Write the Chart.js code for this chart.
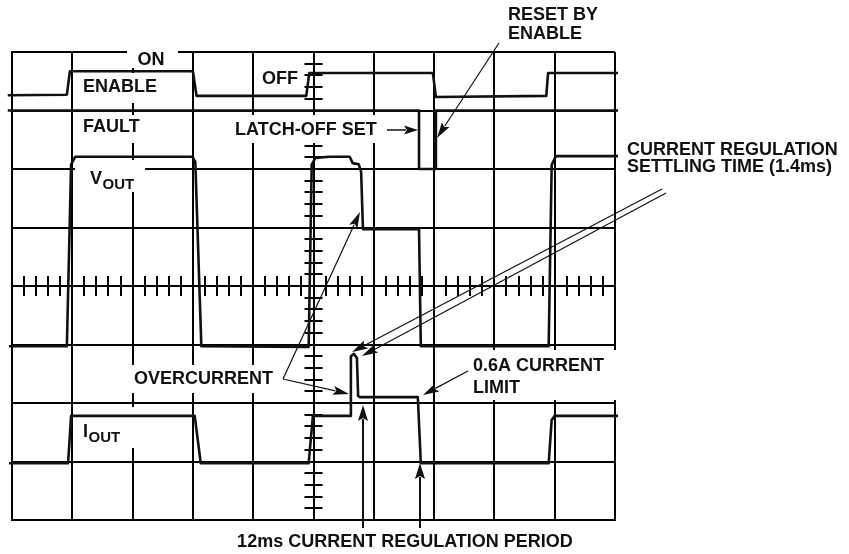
<!DOCTYPE html>
<html><head><meta charset="utf-8">
<script src="https://cdn.jsdelivr.net/npm/chart.js@4/dist/chart.umd.min.js"></script>
<style>html,body{margin:0;padding:0;background:#fff;}canvas{display:block;}</style>
</head><body>
<canvas id="c" width="849" height="554"></canvas>
<script>
// Horizontal unit: scope divisions (10), vertical unit: scope divisions (8)
const xMin = 0, xMax = 10, yMin = 0, yMax = 8;

// ENABLE trace
const enableX = [-0.07, 0.91, 0.96, 3.00, 3.06, 4.88, 4.93, 6.98, 7.03, 8.86, 8.89, 10.05];
const enableY = [7.26, 7.27, 7.67, 7.67, 7.25, 7.25, 7.64, 7.64, 7.23, 7.25, 7.64, 7.64];
// FAULT trace
const faultX = [-0.07, 6.75, 6.75, 7.03, 7.03, 10.05];
const faultY = [7.0, 7.0, 6.0, 6.0, 7.0, 7.0];
// VOUT trace
const voutX = [-0.05, 0.91, 0.98, 1.05, 2.99, 3.04, 3.14, 4.92, 4.97, 5.03, 5.27, 5.60, 5.65, 5.75, 5.79, 5.82, 6.75, 6.78, 8.90, 8.95, 9.02, 10.05];
const voutY = [2.97, 2.97, 6.08, 6.21, 6.21, 6.12, 2.97, 2.96, 6.07, 6.19, 6.21, 6.21, 6.10, 6.08, 5.95, 4.97, 4.97, 2.97, 2.97, 6.07, 6.22, 6.22];
// IOUT trace
const ioutX = [-0.05, 0.93, 0.98, 3.03, 3.13, 4.92, 4.99, 5.62, 5.62, 5.67, 5.72, 5.74, 5.77, 6.73, 6.78, 8.90, 8.95, 9.00, 10.05];
const ioutY = [0.97, 0.97, 1.78, 1.78, 0.97, 0.97, 1.78, 1.78, 2.80, 2.84, 2.77, 2.12, 2.10, 2.10, 0.97, 0.97, 1.71, 1.78, 1.78];

// Annotation texts (data units; y = vertical centre of capitals)
const textLabels = [
  {t:'ON', x:2.305, y:7.88, align:'center'},
  {t:'ENABLE', x:1.177, y:7.419},
  {t:'FAULT', x:1.177, y:6.735},
  {t:'OFF', x:4.743, y:7.556, align:'right'},
  {t:'LATCH-OFF SET', x:3.698, y:6.684},
  {t:'RESET BY', x:8.226, y:8.65},
  {t:'ENABLE', x:8.226, y:8.333},
  {t:'CURRENT REGULATION', x:10.199, y:6.342},
  {t:'SETTLING TIME (1.4ms)', x:10.199, y:6.051},
  {t:'OVERCURRENT', x:2.023, y:2.427},
  {t:'0.6A CURRENT', x:7.645, y:2.65},
  {t:'LIMIT', x:7.645, y:2.274},
  {t:'12ms CURRENT REGULATION PERIOD', x:6.517, y:-0.359, align:'center'}
];
const subLabels = [
  {t:'V', sub:'OUT', x:1.294, y:5.846},
  {t:'I', sub:'OUT', x:1.177, y:1.52}
];
// Label backgrounds that mask the graticule [x1, y1, x2, y2]
const maskBoxes = [
  [1.907, 8.137, 2.753, 7.726],
  [1.095, 7.641, 2.504, 7.128],
  [1.095, 6.923, 2.206, 6.444],
  [1.045, 6.154, 2.206, 5.607],
  [4.03, 7.863, 4.809, 7.299],
  [3.615, 6.923, 6.136, 6.444],
  [1.924, 2.65, 4.527, 2.171],
  [7.562, 2.906, 10.08, 2.051],
  [1.095, 1.932, 2.123, 1.231]
];
// Arrows [x1, y1, x2(tip), y2(tip), lineWidth, headLen, headHalfWidth, withHead]
const arrows = [
  [6.219, 6.667, 6.733, 6.667, 1.5, 14, 4.5, true],
  [8.076, 8.154, 7.048, 6.53, 1.2, 16, 4.5, true],
  [10.779, 5.658, 5.638, 2.872, 1.2, 16, 4.5, true],
  [10.846, 5.59, 5.804, 2.803, 1.2, 16, 4.5, true],
  [4.494, 2.41, 5.771, 5.265, 1.2, 16, 4.5, true],
  [4.494, 2.41, 5.589, 2.154, 1.2, 16, 4.5, true],
  [7.562, 2.547, 6.816, 2.137, 1.2, 16, 4.5, true],
  [5.821, -0.137, 5.821, 1.966, 2, 16, 5, true],
  [6.766, -0.137, 6.766, 0.974, 2, 16, 5, true]
];

const toPts = (xs, ys) => xs.map((v, i) => ({x: v, y: ys[i]}));
const FONT = '"Liberation Sans", Arial, Helvetica, sans-serif';

const scopePlugin = {
  id: 'scope',
  beforeDatasetsDraw(chart) {
    const {ctx, scales: {x, y}} = chart;
    ctx.save();
    ctx.strokeStyle = '#000';
    ctx.lineWidth = 2;
    const cx = x.getPixelForValue((xMin + xMax) / 2);
    const cy = y.getPixelForValue((yMin + yMax) / 2);
    ctx.beginPath();
    for (let i = 0; i <= 50; i++) {
      const px = Math.round(x.getPixelForValue(xMin + i * 0.2));
      ctx.moveTo(px, cy - 10); ctx.lineTo(px, cy + 10);
    }
    for (let i = 0; i <= 40; i++) {
      const py = Math.round(y.getPixelForValue(yMin + i * 0.2));
      ctx.moveTo(cx - 9, py); ctx.lineTo(cx + 9, py);
    }
    ctx.stroke();
    ctx.fillStyle = '#fff';
    for (const b of maskBoxes) {
      const x1 = x.getPixelForValue(b[0]), y1 = y.getPixelForValue(b[1]);
      const x2 = x.getPixelForValue(b[2]), y2 = y.getPixelForValue(b[3]);
      ctx.fillRect(x1, y1, x2 - x1, y2 - y1);
    }
    ctx.restore();
  },
  afterDatasetsDraw(chart) {
    const {ctx, scales: {x, y}} = chart;
    ctx.save();
    ctx.fillStyle = '#111';
    ctx.textBaseline = 'alphabetic';
    const cap = 6.4;
    ctx.font = 'bold 18px ' + FONT;
    for (const l of textLabels) {
      ctx.textAlign = l.align || 'left';
      ctx.fillText(l.t, x.getPixelForValue(l.x), y.getPixelForValue(l.y) + cap);
    }
    ctx.textAlign = 'left';
    for (const l of subLabels) {
      const px = x.getPixelForValue(l.x), py = y.getPixelForValue(l.y) + cap;
      ctx.font = 'bold 18px ' + FONT;
      ctx.fillText(l.t, px, py);
      const w = ctx.measureText(l.t).width;
      ctx.font = 'bold 15px ' + FONT;
      ctx.fillText(l.sub, px + w + 0.5, py + 5);
    }
    ctx.strokeStyle = '#111';
    for (const a of arrows) {
      const x1 = x.getPixelForValue(a[0]), y1 = y.getPixelForValue(a[1]);
      const x2 = x.getPixelForValue(a[2]), y2 = y.getPixelForValue(a[3]);
      const ang = Math.atan2(y2 - y1, x2 - x1);
      const hl = a[5], hw = a[6];
      const bx = x2 - hl * Math.cos(ang), by = y2 - hl * Math.sin(ang);
      ctx.lineWidth = a[4];
      ctx.beginPath();
      ctx.moveTo(x1, y1); ctx.lineTo(bx + 2 * Math.cos(ang), by + 2 * Math.sin(ang));
      ctx.stroke();
      if (a[7]) {
        ctx.beginPath();
        ctx.moveTo(x2, y2);
        ctx.lineTo(bx - hw * Math.sin(ang), by + hw * Math.cos(ang));
        ctx.lineTo(bx + 3 * Math.cos(ang), by + 3 * Math.sin(ang));
        ctx.lineTo(bx + hw * Math.sin(ang), by - hw * Math.cos(ang));
        ctx.closePath();
        ctx.fill();
      }
    }
    ctx.restore();
  }
};

const traceStyle = {borderColor: '#111', borderWidth: 2.6, pointRadius: 0, tension: 0,
  fill: false, clip: 8, borderJoinStyle: 'round', borderCapStyle: 'butt'};

new Chart(document.getElementById('c'), {
  type: 'line',
  data: {
    datasets: [
      Object.assign({label: 'ENABLE', data: toPts(enableX, enableY)}, traceStyle),
      Object.assign({label: 'FAULT', data: toPts(faultX, faultY)}, traceStyle),
      Object.assign({label: 'VOUT', data: toPts(voutX, voutY)}, traceStyle),
      Object.assign({label: 'IOUT', data: toPts(ioutX, ioutY)}, traceStyle)
    ]
  },
  options: {
    responsive: false,
    animation: false,
    devicePixelRatio: 1,
    layout: {padding: {left: 12, right: 234, top: 52, bottom: 34}},
    plugins: {legend: {display: false}, tooltip: {enabled: false}},
    scales: {
      x: {type: 'linear', min: xMin, max: xMax,
        ticks: {display: false, stepSize: 1},
        grid: {color: '#000', lineWidth: 2, drawTicks: false},
        border: {display: true, color: '#000', width: 2}},
      y: {type: 'linear', min: yMin, max: yMax,
        ticks: {display: false, stepSize: 1},
        grid: {color: '#000', lineWidth: 2, drawTicks: false},
        border: {display: true, color: '#000', width: 2}}
    }
  },
  plugins: [scopePlugin]
});
</script>
</body></html>
